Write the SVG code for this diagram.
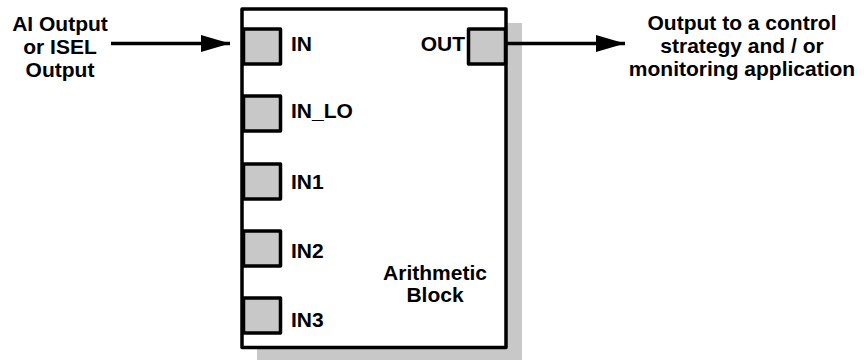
<svg xmlns="http://www.w3.org/2000/svg" width="868" height="360" viewBox="0 0 868 360">
<style>
text{font-family:"Liberation Sans",Arial,sans-serif;font-weight:bold;font-size:21px;fill:#000}
.port{fill:#c8c8c8;stroke:#000;stroke-width:3.5;stroke-linejoin:round}
.conn{stroke:#000;stroke-width:3.5;fill:none}
.mid{text-anchor:middle}
</style>
<defs>
<marker id="arrow" viewBox="0 0 29 17" refX="29" refY="8.5" markerWidth="29" markerHeight="17" markerUnits="userSpaceOnUse" orient="auto">
<path d="M0,0 L29,8.5 L0,17 z" fill="#000"/>
</marker>
</defs>
<g id="arithmetic-block">
<rect x="257" y="23" width="265" height="345" fill="#c8c8c8"/>
<rect x="242" y="9" width="264" height="338.5" fill="#fff" stroke="#000" stroke-width="3.5" stroke-linejoin="round"/>
<text class="mid" x="435" y="280">Arithmetic</text>
<text class="mid" x="435" y="302">Block</text>
</g>
<g id="port-in">
<rect class="port" x="243.5" y="29" width="37" height="35"/>
<text x="291" y="51">IN</text>
</g>
<g id="port-in-lo">
<rect class="port" x="243.5" y="96" width="37" height="35"/>
<text x="291" y="118">IN_LO</text>
</g>
<g id="port-in1">
<rect class="port" x="243.5" y="164" width="37" height="35"/>
<text x="291" y="189">IN1</text>
</g>
<g id="port-in2">
<rect class="port" x="243.5" y="231" width="37" height="35"/>
<text x="291" y="258">IN2</text>
</g>
<g id="port-in3">
<rect class="port" x="243.5" y="298" width="37" height="35"/>
<text x="291" y="327">IN3</text>
</g>
<g id="port-out">
<rect class="port" x="468.5" y="29" width="37" height="35"/>
<text x="465" y="51" text-anchor="end">OUT</text>
</g>
<g id="source-label">
<text class="mid" x="60" y="31">AI Output</text>
<text class="mid" x="60" y="54">or ISEL</text>
<text class="mid" x="60" y="77">Output</text>
</g>
<g id="target-label">
<text class="mid" x="742" y="30">Output to a control</text>
<text class="mid" x="742" y="53">strategy and / or</text>
<text class="mid" x="742" y="76">monitoring application</text>
</g>
<g id="connectors">
<line class="conn" x1="111" y1="43.5" x2="230" y2="43.5" marker-end="url(#arrow)"/>
<line class="conn" x1="506" y1="43.5" x2="625" y2="43.5" marker-end="url(#arrow)"/>
</g>
</svg>
